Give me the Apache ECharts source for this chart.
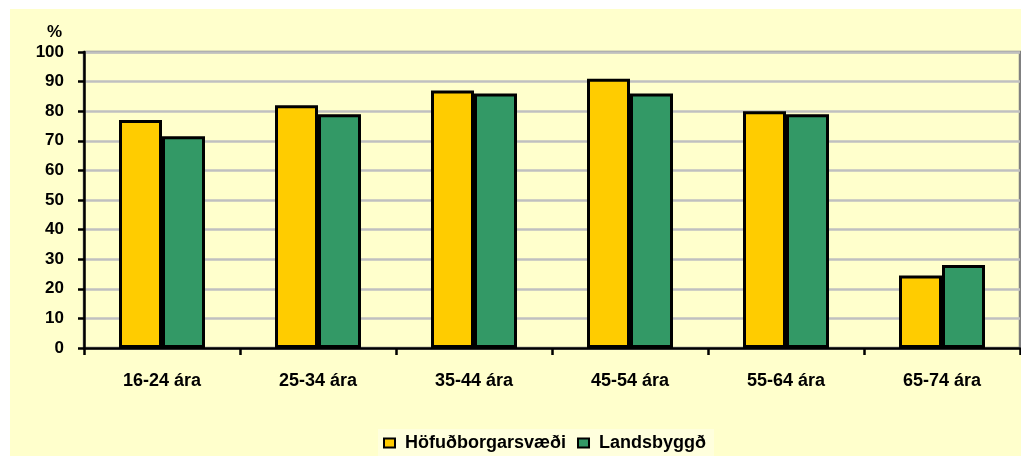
<!DOCTYPE html>
<html>
<head>
<meta charset="utf-8">
<script src="https://cdn.jsdelivr.net/npm/echarts@6/dist/echarts.min.js"></script>
<style>
  html, body { margin: 0; padding: 0; background: #fff; }
  #chart { width: 1021px; height: 456px; }
</style>
</head>
<body>
<div id="chart"></div>
<script>
const categories = ['16-24 ára', '25-34 ára', '35-44 ára', '45-54 ára', '55-64 ára', '65-74 ára']
const hofudborg = [77, 82, 87, 91, 80, 24.5]
const landsbyggd = [71.5, 79, 86, 86, 79, 28]
const yTicks = { min: 0, max: 100, interval: 10 }

const font = "'Liberation Sans', Arial, sans-serif"
const chart = echarts.init(document.getElementById('chart'))

const barStyle = color => ({ color: color, borderColor: '#000', borderWidth: 3 })

const option = {
  animation: false,
  backgroundColor: '#fff',
  graphic: [
    { type: 'rect', left: 10, top: 9, shape: { width: 1011, height: 447 }, style: { fill: '#FFFFCC' }, z: -10 },
    { type: 'text', left: 47, top: 24, style: { text: '%', font: 'bold 17px ' + font, fill: '#000' } }
  ],
  grid: {
    left: 84, right: 1, top: 52, bottom: 108,
    show: true, borderColor: '#808080', borderWidth: 2.5, backgroundColor: 'transparent'
  },
  legend: {
    left: 378, top: 429,
    padding: [5, 8, 5, 5],
    backgroundColor: '#FFFFDD',
    itemWidth: 11, itemHeight: 9, itemGap: 11,
    icon: 'rect',
    textStyle: { fontFamily: font, fontWeight: 'bold', fontSize: 18, color: '#000', padding: [0, 0, 0, 5] },
    data: ['Höfuðborgarsvæði', 'Landsbyggð']
  },
  xAxis: {
    type: 'category',
    data: categories,
    boundaryGap: true,
    axisLine: { lineStyle: { color: '#000', width: 2.5 } },
    axisTick: { show: true, length: 7, lineStyle: { color: '#000', width: 2.5 } },
    axisLabel: { color: '#000', fontFamily: font, fontWeight: 'bold', fontSize: 18, margin: 24 }
  },
  yAxis: {
    type: 'value',
    min: yTicks.min, max: yTicks.max, interval: yTicks.interval,
    axisLine: { show: true, lineStyle: { color: '#000', width: 2.5 } },
    axisTick: { show: true, length: 6, lineStyle: { color: '#000', width: 2.5 } },
    axisLabel: { color: '#000', fontFamily: font, fontWeight: 'bold', fontSize: 17, margin: 20 },
    splitLine: { lineStyle: { color: '#C0C0C0', width: 2.5 } }
  },
  series: [
    {
      name: 'Höfuðborgarsvæði',
      type: 'bar',
      data: hofudborg,
      barWidth: 43,
      barGap: '0%',
      itemStyle: barStyle('#FFCC00')
    },
    {
      name: 'Landsbyggð',
      type: 'bar',
      data: landsbyggd,
      barWidth: 43,
      barGap: '0%',
      itemStyle: barStyle('#339966')
    }
  ]
}

chart.setOption(option)
</script>
</body>
</html>
